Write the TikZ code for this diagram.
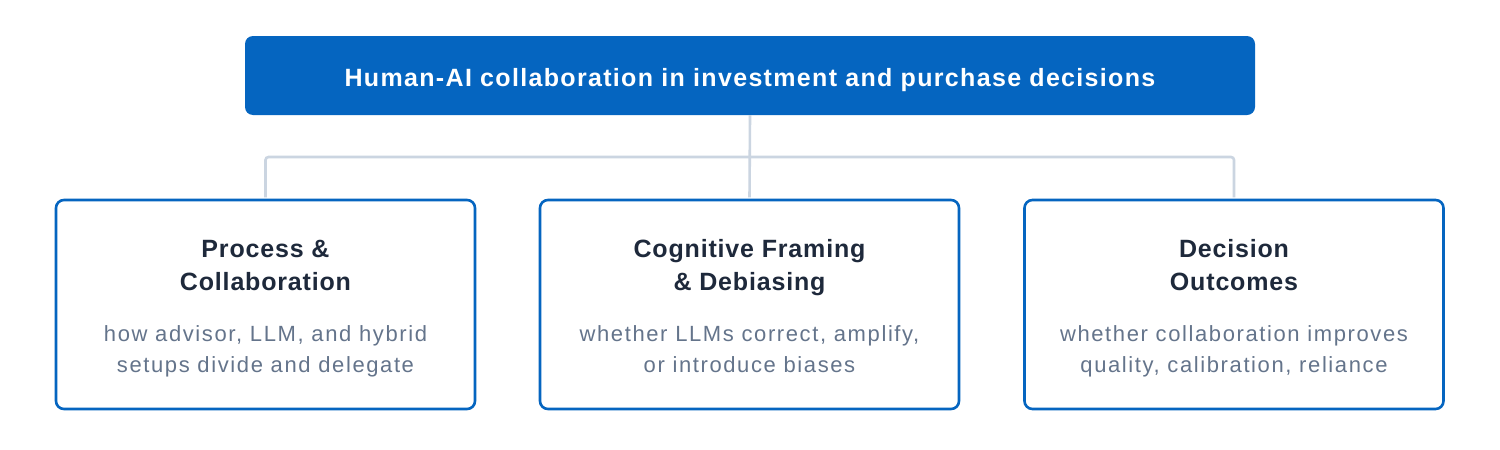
\documentclass[tikz,border=0pt]{standalone}
\usepackage{fontspec}
\setmainfont{Liberation Sans}
\definecolor{mainblue}{HTML}{0565C0}
\definecolor{linegray}{HTML}{CBD5E1}
\definecolor{titledark}{HTML}{1E293B}
\definecolor{descgray}{HTML}{64748B}
\tikzset{
  topbox/.style={fill=mainblue, draw=none, rounded corners=8pt, minimum width=1010pt, minimum height=79pt, inner sep=0pt},
  toptext/.style={anchor=base, inner sep=0pt, text=white, font=\fontsize{25}{28}\selectfont\bfseries\addfontfeature{LetterSpace=5.3}},
  childbox/.style={draw=mainblue, line width=2.6pt, fill=white, rounded corners=8pt, minimum width=419pt, minimum height=209pt, inner sep=0pt},
  ctitle/.style={anchor=base, text=titledark, font=\fontsize{25}{33}\selectfont\bfseries\addfontfeature{LetterSpace=3.3}, inner sep=0pt},
  cdesc/.style={anchor=base, text=descgray, font=\fontsize{22}{32}\selectfont\addfontfeature{LetterSpace=7.3}, inner sep=0pt},
  conn/.style={draw=linegray, line width=2.6pt, rounded corners=3pt}
}
\begin{document}
\begin{tikzpicture}[x=1pt,y=-1pt]
\fill[white] (0,0) rectangle (1500,450);
\useasboundingbox (0,0) rectangle (1500,450);
\node[topbox] (top) at (750,75.5) {};
\node[toptext] (toptxt) at (750,86) {Human-AI collaboration in investment and purchase decisions};
\node[childbox] (b1) at (265.5,304.5) {};
\node[childbox] (b2) at (749.5,304.5) {};
\node[childbox] (b3) at (1234,304.5) {};
\coordinate (j) at (750,157);
\draw[conn, shorten >=1.3pt] (top.south) -- (b2.north);
\draw[conn, shorten <=1.3pt, shorten >=1.3pt] (b1.north) -- (b1.north |- j) -- (b3.north |- j) -- (b3.north);
\node[ctitle] (t1a) at (265.5,257) {Process \&};
\node[ctitle] (t1b) at (265.5,290) {Collaboration};
\node[cdesc] (d1a) at (265.5,341) {how advisor, LLM, and hybrid};
\node[cdesc] (d1b) at (265.5,372) {setups divide and delegate};
\node[ctitle] (t2a) at (749.5,257) {Cognitive Framing};
\node[ctitle] (t2b) at (749.5,290) {\& Debiasing};
\node[cdesc] (d2a) at (749.5,341) {whether LLMs correct, amplify,};
\node[cdesc] (d2b) at (749.5,372) {or introduce biases};
\node[ctitle] (t3a) at (1234,257) {Decision};
\node[ctitle] (t3b) at (1234,290) {Outcomes};
\node[cdesc] (d3a) at (1234,341) {whether collaboration improves};
\node[cdesc] (d3b) at (1234,372) {quality, calibration, reliance};
\end{tikzpicture}
\end{document}
